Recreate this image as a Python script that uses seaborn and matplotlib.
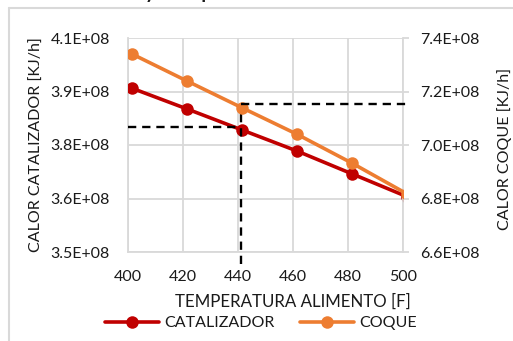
import matplotlib
matplotlib.use("Agg")
import matplotlib.pyplot as plt
from matplotlib.lines import Line2D
import seaborn as sns
import pandas as pd

# Feed temperature [F] and heat duties [KJ/h]
temperatura = [401.5, 421.5, 441.5, 461.5, 481.5, 501.5]
calor_catalizador = [3.959e8, 3.901e8, 3.842e8, 3.783e8, 3.719e8, 3.655e8]
calor_coque = [7.340e8, 7.239e8, 7.139e8, 7.040e8, 6.932e8, 6.817e8]

# Reading at the design temperature
t_lectura = 441.0
cat_lectura = 3.85e8
coque_lectura = 7.153e8

x_ticks = [400, 420, 440, 460, 480, 500]
y1_ticks = [3.5e8, 3.65e8, 3.8e8, 3.95e8, 4.1e8]
y1_labels = ["3.5E+08", "3.6E+08", "3.8E+08", "3.9E+08", "4.1E+08"]
y2_ticks = [6.6e8, 6.8e8, 7.0e8, 7.2e8, 7.4e8]
y2_labels = ["6.6E+08", "6.8E+08", "7.0E+08", "7.2E+08", "7.4E+08"]

df = pd.DataFrame({"T": temperatura, "CATALIZADOR": calor_catalizador,
                   "COQUE": calor_coque})

sns.set_style("white")
plt.rcParams["font.family"] = ["Lato", "DejaVu Sans"]

RED = "#C00000"
ORANGE = "#ED7D31"
GRID = "#D9D9D9"
TXT = "#1a1a1a"
FS = 11.5

fig = plt.figure(figsize=(5.13, 3.41), dpi=100)
ax = fig.add_axes([128 / 513, 89 / 341, 275 / 513, 214 / 341])
ax2 = ax.twinx()

sns.lineplot(data=df, x="T", y="CATALIZADOR", ax=ax, color=RED, lw=2.6,
             marker="o", markersize=9, markeredgewidth=0, label="CATALIZADOR",
             zorder=4)
sns.lineplot(data=df, x="T", y="COQUE", ax=ax2, color=ORANGE, lw=2.6,
             marker="o", markersize=9, markeredgewidth=0, label="COQUE",
             zorder=4)

ax.set_xlim(400, 500)
ax.set_ylim(3.5e8, 4.1e8)
ax2.set_ylim(6.6e8, 7.4e8)
ax.set_xticks(x_ticks)
ax.set_xticklabels([str(v) for v in x_ticks])
ax.set_yticks(y1_ticks)
ax.set_yticklabels(y1_labels)
ax2.set_yticks(y2_ticks)
ax2.set_yticklabels(y2_labels)

ax.grid(True, color=GRID, lw=1.3)
ax.set_axisbelow(True)
ax2.grid(False)

for a in (ax, ax2):
    for s in a.spines.values():
        s.set_visible(False)
ax.spines["left"].set_visible(True)
ax.spines["bottom"].set_visible(True)
ax.spines["left"].set_color(GRID)
ax.spines["bottom"].set_color(GRID)
ax.spines["left"].set_linewidth(1.3)
ax.spines["bottom"].set_linewidth(1.3)
ax2.spines["right"].set_visible(True)
ax2.spines["right"].set_color(GRID)
ax2.spines["right"].set_linewidth(1.3)

ax.tick_params(axis="x", length=0, labelsize=FS, labelcolor=TXT, pad=13)
ax.tick_params(axis="y", length=0, labelsize=FS, labelcolor=TXT, pad=13)
ax2.tick_params(axis="y", length=4, width=1.3, color=GRID, labelsize=FS,
                labelcolor=TXT, pad=8)

ax.set_xlabel("TEMPERATURA ALIMENTO [F]", fontsize=12.2, color=TXT)
ax.xaxis.set_label_coords(0.6, -0.195)
ax.set_ylabel("CALOR CATALIZADOR [KJ/h]", fontsize=FS, color=TXT)
ax.yaxis.set_label_coords(-0.305, 0.5)
ax2.set_ylabel("CALOR COQUE [KJ/h]", fontsize=FS, color=TXT)
ax2.yaxis.set_label_coords(1.342, 0.48)

# Dashed reading lines at the design temperature
dash = dict(color="black", lw=1.7, ls=(0, (3.5, 2.5)), zorder=5)
ax.plot([400, t_lectura], [cat_lectura, cat_lectura], **dash)
ax.plot([t_lectura, t_lectura],
        [3.465e8, 3.5e8 + (coque_lectura - 6.6e8) / 0.8e8 * 0.6e8],
        clip_on=False, **dash)
ax2.plot([t_lectura, 501], [coque_lectura, coque_lectura], clip_on=False, **dash)

# Legend below the plot
h1, l1 = ax.get_legend_handles_labels()
h2, l2 = ax2.get_legend_handles_labels()
ax.get_legend().remove()
ax2.get_legend().remove()
fig.legend(h1 + h2, l1 + l2, loc="center",
           bbox_to_anchor=(261 / 513, 1 - 323 / 341),
           ncol=2, frameon=False, fontsize=FS, handlelength=3.4,
           columnspacing=1.6, handletextpad=0.3, labelcolor=TXT,
           borderaxespad=0, borderpad=0)

# Chart frame and title strip
fig.add_artist(Line2D([9 / 513, 1], [1 - 8 / 341, 1 - 8 / 341], color=GRID, lw=1.5))
fig.add_artist(Line2D([9 / 513, 9 / 513], [0, 1 - 8 / 341], color=GRID, lw=1.5))
fig.text(15 / 513, 1 + 3 / 341, "Calor total y coque", fontsize=19, color=TXT,
         va="baseline", ha="left")

fig.savefig("out.png", dpi=100)
